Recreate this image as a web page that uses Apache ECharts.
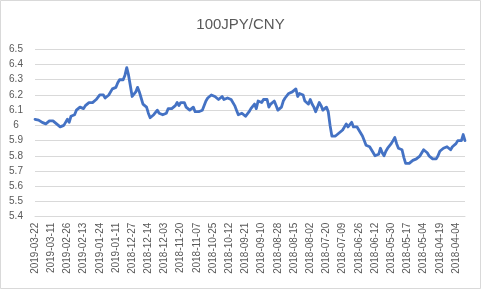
<!DOCTYPE html>
<html>
<head>
<meta charset="utf-8">
<script src="https://cdn.jsdelivr.net/npm/echarts@6/dist/echarts.min.js"></script>
<style>
html,body{margin:0;padding:0;background:#fff;}
#c{width:481px;height:289px;}
</style>
</head>
<body>
<div id="c"></div>
<script>
var titleText = '100JPY/CNY';
var tickLabels = ['2019-03-22','2019-03-11','2019-02-26','2019-02-13','2019-01-24','2019-01-11','2018-12-27','2018-12-14','2018-12-03','2018-11-20','2018-11-07','2018-10-25','2018-10-12','2018-09-21','2018-09-10','2018-08-28','2018-08-15','2018-08-02','2018-07-20','2018-07-09','2018-06-26','2018-06-12','2018-05-30','2018-05-17','2018-05-04','2018-04-19','2018-04-04'];
var labelStep = 9;
var rates = [
6.04,6.04,6.035,6.03,6.02,6.01,6.01,6.02,6.03,6.04,
6.03,6.02,6.01,6.00,5.99,5.99,6.00,6.02,6.04,6.02,
6.06,6.06,6.07,6.10,6.11,6.12,6.12,6.11,6.13,6.14,
6.15,6.16,6.15,6.16,6.17,6.18,6.20,6.21,6.20,6.18,
6.19,6.20,6.21,6.24,6.23,6.25,6.28,6.30,6.30,6.30,
6.33,6.38,6.33,6.26,6.19,6.19,6.22,6.25,6.22,6.18,
6.14,6.13,6.12,6.08,6.05,6.06,6.07,6.08,6.10,6.08,
6.07,6.07,6.07,6.08,6.11,6.11,6.11,6.12,6.13,6.15,
6.13,6.15,6.16,6.15,6.12,6.11,6.10,6.11,6.12,6.09,
6.09,6.09,6.10,6.10,6.10,6.16,6.18,6.19,6.20,6.19,
6.19,6.20,6.17,6.16,6.19,6.17,6.16,6.18,6.17,6.17,
6.16,6.13,6.10,6.07,6.07,6.08,6.08,6.06,6.07,6.09,
6.11,6.12,6.14,6.11,6.16,6.16,6.15,6.17,6.17,6.17,
6.12,6.14,6.15,6.16,6.13,6.10,6.11,6.12,6.16,6.18,
6.19,6.21,6.22,6.22,6.23,6.24,6.19,6.21,6.21,6.20,
6.16,6.15,6.14,6.17,6.14,6.12,6.09,6.12,6.15,6.13,
6.10,6.11,6.12,6.09,6.00,5.93,5.94,5.93,5.92,5.95,
5.96,5.97,5.97,6.01,5.99,5.99,6.02,5.99,5.99,5.99,
5.98,5.95,5.93,5.90,5.87,5.86,5.86,5.84,5.82,5.80,
5.80,5.81,5.85,5.82,5.80,5.83,5.85,5.86,5.88,5.90,
5.92,5.88,5.85,5.84,5.84,5.79,5.75,5.75,5.75,5.76,
5.77,5.78,5.78,5.79,5.80,5.81,5.84,5.83,5.82,5.80,
5.79,5.78,5.78,5.78,5.80,5.83,5.84,5.85,5.86,5.86,
5.85,5.84,5.86,5.87,5.88,5.90,5.90,5.90,5.94,5.90
];
var yMin = 5.4, yMax = 6.5, yStep = 0.1;

var categories = rates.map(function(_, i){ return String(i); });

var chart = echarts.init(document.getElementById('c'), null, {renderer:'canvas'});
chart.setOption({
  animation:false,
  backgroundColor:'#ffffff',
  textStyle:{fontFamily:'Liberation Sans, Arial, sans-serif'},
  title:{
    text:titleText, left:'center', top:12,
    textStyle:{fontFamily:'Liberation Sans, Arial, sans-serif', fontSize:15, fontWeight:'normal', color:'#595959'}
  },
  graphic:[{type:'rect', shape:{x:0.5,y:0.5,width:480,height:288}, style:{fill:'none', stroke:'#d9d9d9', lineWidth:1}, silent:true}],
  grid:{left:35, right:16, top:49.3, bottom:72.3},
  xAxis:{
    type:'category', data:categories, boundaryGap:false,
    axisLine:{show:true, lineStyle:{color:'#d9d9d9'}},
    axisTick:{show:false},
    splitLine:{show:false},
    axisLabel:{
      interval:labelStep-1, rotate:90, fontSize:10, color:'#595959', margin:6,
      formatter:function(v, idx){ var i = Number(v); return (i % labelStep === 0 && tickLabels[i/labelStep]) ? tickLabels[i/labelStep] : ''; }
    }
  },
  yAxis:{
    type:'value', min:yMin, max:yMax, interval:yStep,
    axisLine:{show:false}, axisTick:{show:false},
    splitLine:{lineStyle:{color:'#d9d9d9', width:1}},
    axisLabel:{fontSize:10, color:'#595959', align:'center', margin:19,
      formatter:function(v){ return String(Math.round(v*10)/10); }}
  },
  series:[{
    type:'line', data:rates, showSymbol:false, symbol:'none',
    lineStyle:{color:'#4472C4', width:2.8, join:'round', cap:'round'}
  }]
});
</script>
</body>
</html>
